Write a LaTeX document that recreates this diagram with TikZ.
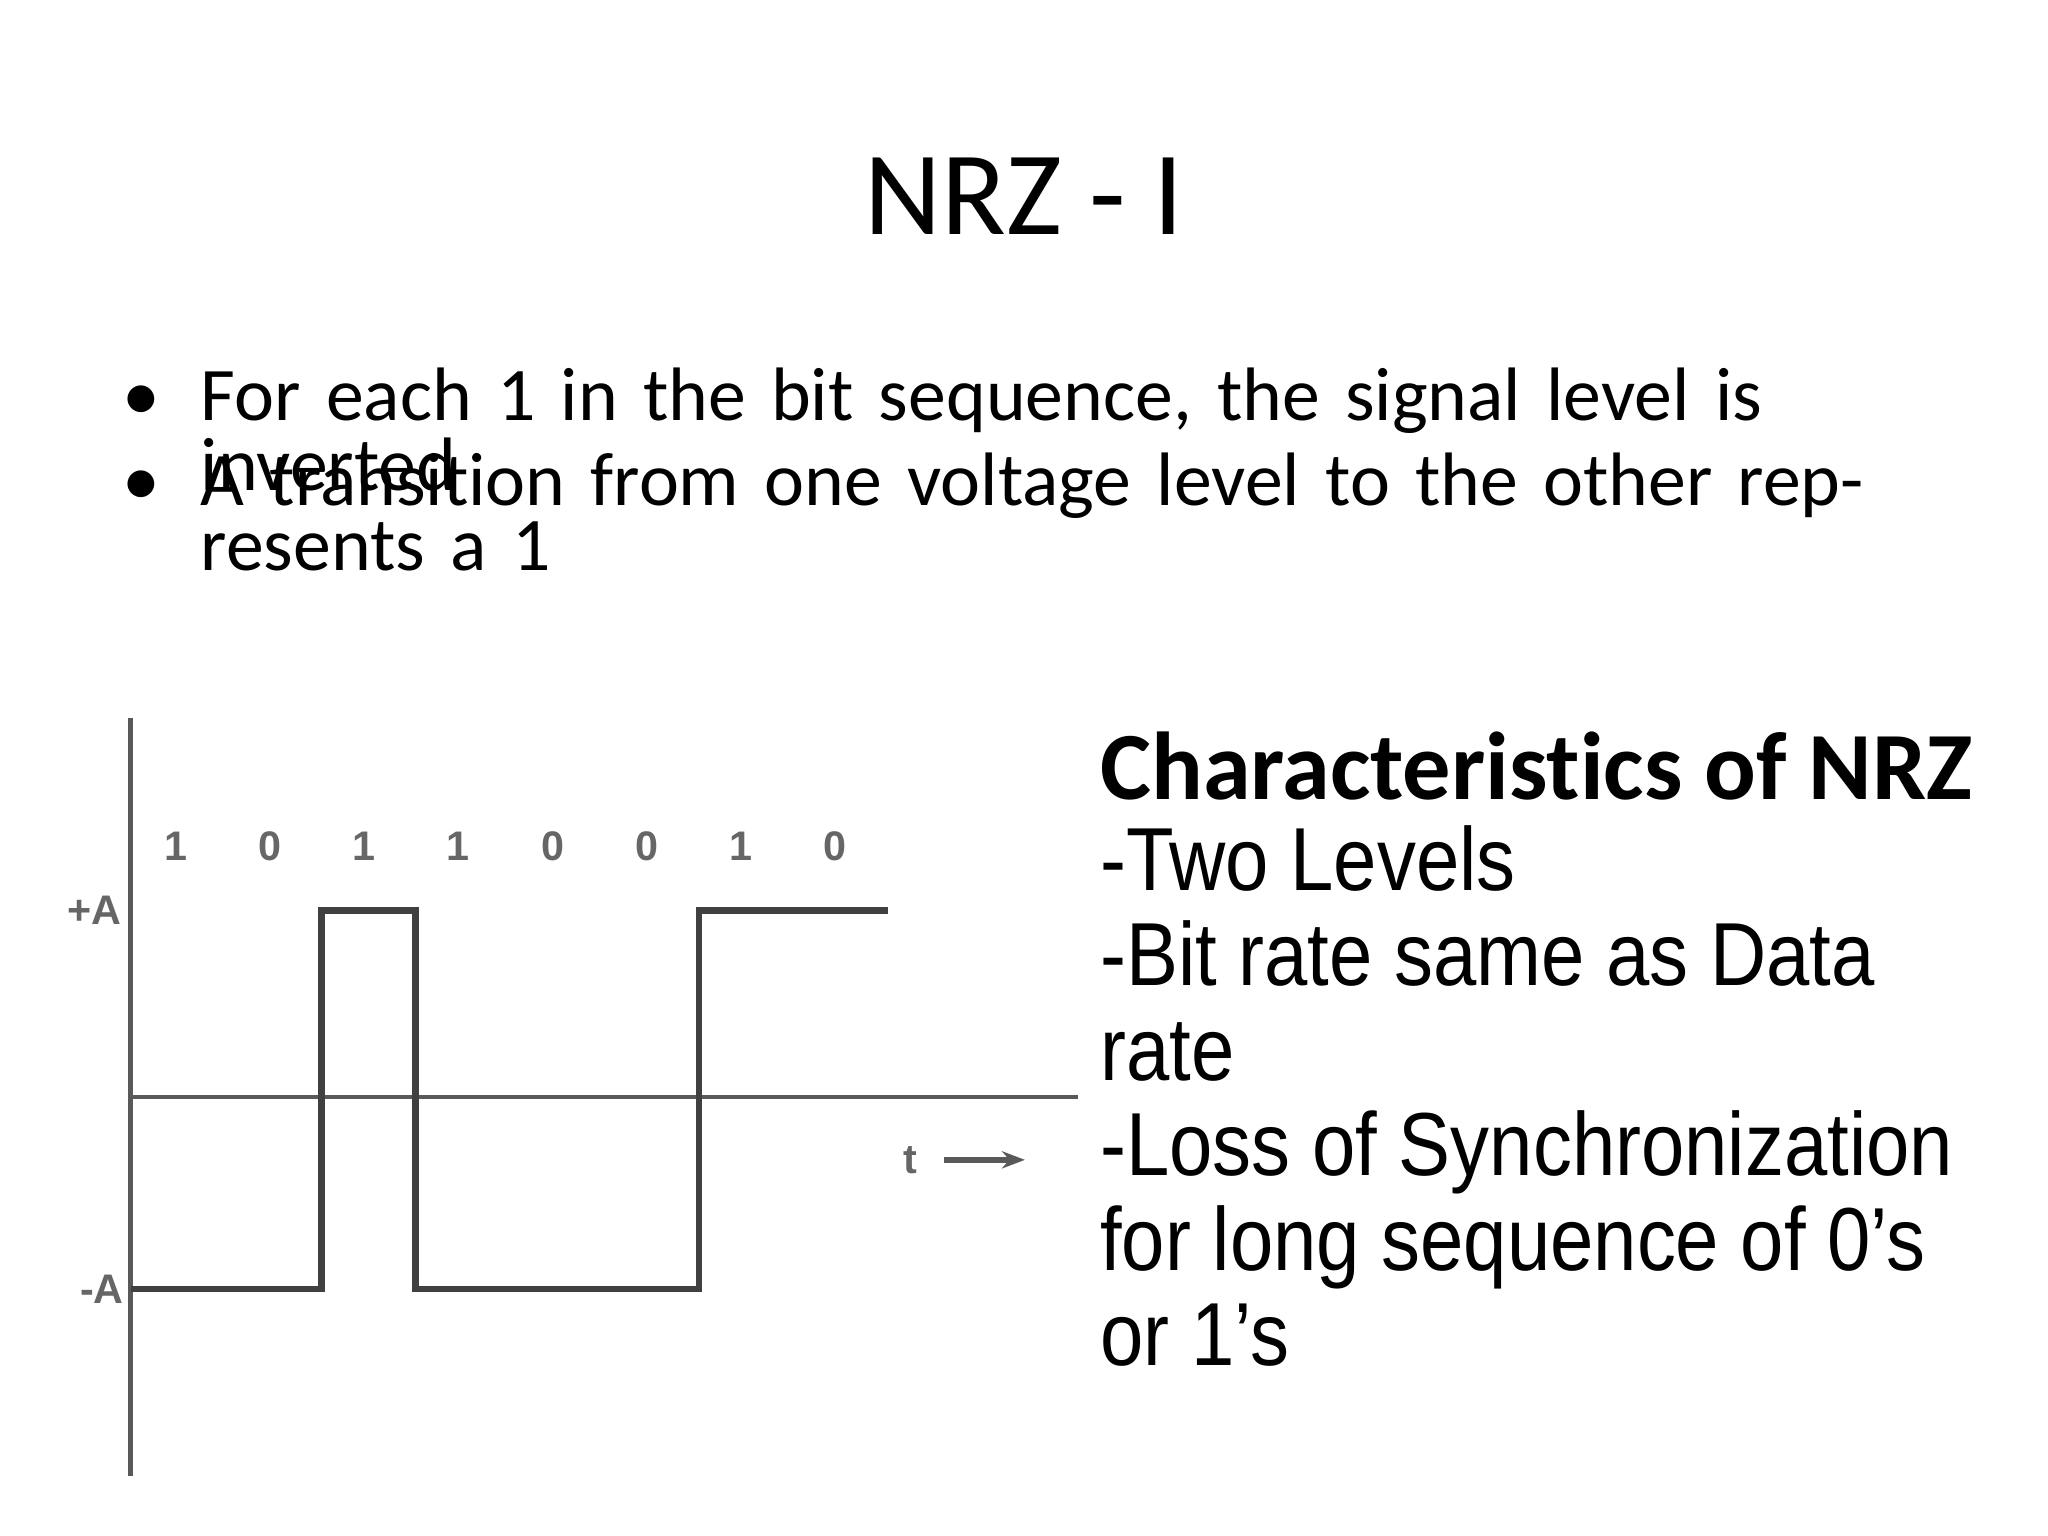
\documentclass[tikz,border=0pt]{standalone}
\usepackage{fontspec}
\setmainfont{Carlito}[RawFeature={-liga;-clig;-dlig}]
\newfontfamily\arialfont{Liberation Sans}
\newfontfamily\narrowfont{Liberation Sans}[FakeStretch=0.87]
\usetikzlibrary{arrows.meta}
\begin{document}
\begin{tikzpicture}[x=0.1mm,y=-0.1mm,
  lbl/.style={font=\arialfont\bfseries\fontsize{9}{9}\selectfont,text=black!60},
  sig/.style={line width=1.4pt,black!75},
  bul/.style={anchor=base west,inner sep=0pt,font=\fontsize{16.5}{14.2}\selectfont},
  item/.style={bul,text width=13cm,align=left}]
\useasboundingbox (0,0) rectangle (1568,1176);
\node (title) at (784,150) {\fontsize{26}{30}\selectfont NRZ - I};
\node[bul] (dot1) at (93,322) {\textbullet};
\node[item] (item1) at (153,322) {For each 1 in the bit sequence, the signal level is inverted};
\node[bul] (dot2) at (93,387) {\textbullet};
\node[item] (item2) at (153,387) {A transition from one voltage level to the other represents a~1};
% axes
\draw[black!65,line width=1pt] (100,550) -- (100,1130);
\draw[black!65,line width=1pt] (100,840) -- (825,840);
\node[lbl] (pa) at (72,697) {+A};
\node[lbl] (ma) at (78,987) {-A};
\foreach \b [count=\i from 0] in {1,0,1,1,0,0,1,0}
  \node[lbl] (bit\i) at (135+72*\i,648) {\b};
\node[lbl] (t) at (697,888) {t};
\draw[-{Stealth[length=5pt]},black!65,line width=1.2pt] (t.east) ++(8,0) -- ++(62,0);
% signal
\draw[sig] (100,987) -- (246,987) -- (246,697) -- (318,697) -- (318,987)
  -- (535,987) -- (535,697) -- (680,697);
\node[anchor=north west,align=left,font=\narrowfont\fontsize{19.5}{20.7}\selectfont] (chars) at (830,548)
  {\normalfont\bfseries\fontsize{21}{20.7}\selectfont Characteristics of NRZ\\[-1pt]
   -Two Levels\\
   -Bit rate same as Data\\ rate\\ -Loss of Synchronization\\
   for long sequence of 0’s\\ or 1’s};
\end{tikzpicture}
\end{document}
